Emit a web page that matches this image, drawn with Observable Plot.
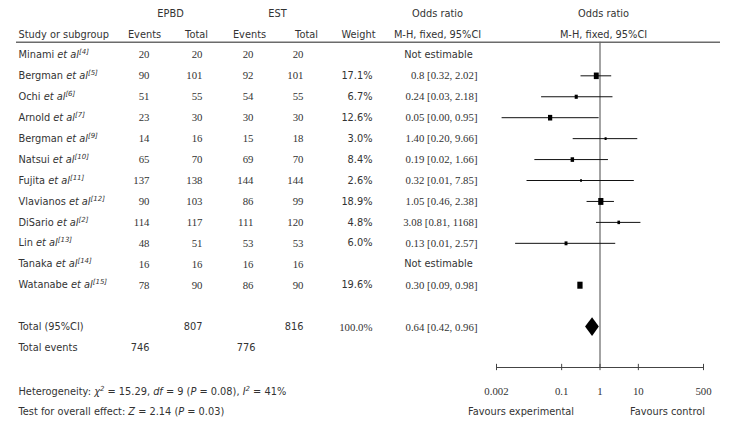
<!DOCTYPE html>
<html>
<head>
<meta charset="utf-8">
<script src="https://cdn.jsdelivr.net/npm/d3@7"></script>
<script src="https://cdn.jsdelivr.net/npm/@observablehq/plot@0.6"></script>
<style>
  html, body { margin: 0; padding: 0; background: #fff; }
  #chart svg { display: block; }
</style>
</head>
<body>
<div id="chart"></div>
<script>
// ---------------- data ----------------
const studyNames = ["Minami","Bergman","Ochi","Arnold","Bergman","Natsui","Fujita","Vlavianos","DiSario","Lin","Tanaka","Watanabe"];
const studyRefs  = [4,5,6,7,9,10,11,12,2,13,14,15];
const epbdEvents = [20,90,51,23,14,65,137,90,114,48,16,78];
const epbdTotal  = [20,101,55,30,16,70,138,103,117,51,16,90];
const estEvents  = [20,92,54,30,15,69,144,86,111,53,16,86];
const estTotal   = [20,101,55,30,18,70,144,99,120,53,16,90];
const weights    = [null,17.1,6.7,12.6,3.0,8.4,2.6,18.9,4.8,6.0,null,19.6];
const weightText = ["","17.1%","6.7%","12.6%","3.0%","8.4%","2.6%","18.9%","4.8%","6.0%","","19.6%"];
const oddsRatio  = [null,0.8,0.24,0.05,1.40,0.19,0.32,1.05,3.08,0.13,null,0.30];
// whisker ends as drawn in the picture (Watanabe has no visible whisker)
const whiskerLow  = [null,0.32,0.03,0.0028,0.20,0.02,0.0125,0.46,0.81,0.0063,null,null];
const whiskerHigh = [null,2.02,2.18,0.95,9.66,1.66,7.85,2.38,11.68,2.57,null,null];
const orText = ["Not estimable","0.8 [0.32, 2.02]","0.24 [0.03, 2.18]","0.05 [0.00, 0.95]","1.40 [0.20, 9.66]","0.19 [0.02, 1.66]","0.32 [0.01, 7.85]","1.05 [0.46, 2.38]","3.08 [0.81, 1168]","0.13 [0.01, 2.57]","Not estimable","0.30 [0.09, 0.98]"];

const totalLabel = "Total (95%CI)";
const totalN = [807, 816];
const totalWeight = "100.0%";
const pooled = {or: 0.64, lo: 0.42, hi: 0.96};
const pooledText = "0.64 [0.42, 0.96]";
const eventsLabel = "Total events";
const totalEvents = [746, 776];

const groupHeaders = ["EPBD","EST","Odds ratio","Odds ratio"];
const columnHeaders = ["Study or subgroup","Events","Total","Events","Total","Weight","M-H, fixed, 95%CI","M-H, fixed, 95%CI"];
const heterogeneity = "Heterogeneity: *χ*^{2} = 15.29, *df* = 9 (*P* = 0.08), *I*^{2} = 41%";
const overallTest = "Test for overall effect: *Z* = 2.14 (*P* = 0.03)";
const tickValues = [0.002, 0.1, 1, 10, 500];
const tickLabels = ["0.002","0.1","1","10","500"];
const favours = ["Favours experimental","Favours control"];

// ---------------- layout ----------------
const W = 734, H = 423, ML = 16, MR = 14;
const AXIS_ROW = 14.93, RULE_ROW = -0.6, TOTAL_ROW = 13, EVENTS_ROW = 14;
const HET_ROW = 16.1, TEST_ROW = 17.06, H1_ROW = -1.95, H2_ROW = -0.96;
const SANS = "DejaVu Sans", SERIF = "Liberation Serif";
const INK = "#333";

const rows = studyNames.map((name, i) => ({
  row: i,
  label: `${name} *et al*^{[${studyRefs[i]}]}`,
  e1: epbdEvents[i], n1: epbdTotal[i], e2: estEvents[i], n2: estTotal[i],
  w: weights[i], wt: weightText[i], or: oddsRatio[i],
  lo: whiskerLow[i], hi: whiskerHigh[i], ort: orText[i]
}));
const estimable = rows.filter(d => d.or != null);
const notEstimable = rows.filter(d => d.or == null);
const whiskers = rows.filter(d => d.lo != null);

// text column placed at a pixel column
const col = (data, px, o) => Plot.text(data, {frameAnchor: "left", dx: px - ML, fill: INK, fontFamily: SANS, fontSize: 9.8, ...o});

const diamond = [
  {x: pooled.lo, y1: TOTAL_ROW, y2: TOTAL_ROW},
  {x: pooled.or, y1: TOTAL_ROW - 0.45, y2: TOTAL_ROW + 0.45},
  {x: pooled.hi, y1: TOTAL_ROW, y2: TOTAL_ROW}
];

const boxSymbol = {draw(ctx, size) { const w = Math.sqrt(size * 0.75), h = Math.sqrt(size / 0.75); ctx.rect(-w / 2, -h / 2, w, h); }};

const chart = Plot.plot({
  width: W, height: H,
  marginLeft: ML, marginRight: MR, marginTop: 0, marginBottom: H - 367,
  x: {type: "log", domain: [0.002, 500], range: [496, 703], axis: null},
  y: {type: "linear", domain: [-2, AXIS_ROW], range: [12.5, 367], axis: null},
  r: {type: "sqrt", domain: [0, 20], range: [0, 3.47]},
  style: {background: "#fff", color: INK},
  marks: [
    // header underline
    Plot.ruleY([RULE_ROW], {stroke: "#6b6b6b", strokeWidth: 1.5}),
    // group headers
    col([groupHeaders[0]], 170, {y: H1_ROW, text: d => d, textAnchor: "middle"}),
    col([groupHeaders[1]], 277, {y: H1_ROW, text: d => d, textAnchor: "middle"}),
    col([groupHeaders[2]], 437, {y: H1_ROW, text: d => d, textAnchor: "middle"}),
    col([groupHeaders[3]], 603, {y: H1_ROW, text: d => d, textAnchor: "middle"}),
    // column headers
    col([columnHeaders[0]], 18, {y: H2_ROW, text: d => d, textAnchor: "start"}),
    col([columnHeaders[1]], 144, {y: H2_ROW, text: d => d, textAnchor: "middle"}),
    col([columnHeaders[2]], 196, {y: H2_ROW, text: d => d, textAnchor: "middle"}),
    col([columnHeaders[3]], 249, {y: H2_ROW, text: d => d, textAnchor: "middle"}),
    col([columnHeaders[4]], 306, {y: H2_ROW, text: d => d, textAnchor: "middle"}),
    col([columnHeaders[5]], 358, {y: H2_ROW, text: d => d, textAnchor: "middle"}),
    col([columnHeaders[6]], 437, {y: H2_ROW, text: d => d, textAnchor: "middle"}),
    col([columnHeaders[7]], 603, {y: H2_ROW, text: d => d, textAnchor: "middle"}),
    // study rows
    col(rows, 18, {y: "row", text: "label", textAnchor: "start"}),
    col(rows, 149, {y: "row", text: "e1", textAnchor: "end", fontFamily: SERIF, fontSize: 10.8}),
    col(rows, 202, {y: "row", text: "n1", textAnchor: "end", fontFamily: SERIF, fontSize: 10.8}),
    col(rows, 253, {y: "row", text: "e2", textAnchor: "end", fontFamily: SERIF, fontSize: 10.8}),
    col(rows, 303, {y: "row", text: "n2", textAnchor: "end", fontFamily: SERIF, fontSize: 10.8}),
    col(rows, 372, {y: "row", text: "wt", textAnchor: "end"}),
    col(estimable, 477, {y: "row", text: "ort", textAnchor: "end", fontFamily: SERIF, fontSize: 10.8}),
    col(notEstimable, 438, {y: "row", text: "ort", textAnchor: "middle"}),
    // totals
    col([totalLabel], 18, {y: TOTAL_ROW, text: d => d, textAnchor: "start"}),
    col([totalN[0]], 202, {y: TOTAL_ROW, text: d => d, textAnchor: "end"}),
    col([totalN[1]], 303, {y: TOTAL_ROW, text: d => d, textAnchor: "end"}),
    col([totalWeight], 372, {y: TOTAL_ROW, text: d => d, textAnchor: "end", fontFamily: SERIF, fontSize: 10.8}),
    col([pooledText], 477, {y: TOTAL_ROW, text: d => d, textAnchor: "end", fontFamily: SERIF, fontSize: 10.8}),
    col([eventsLabel], 18, {y: EVENTS_ROW, text: d => d, textAnchor: "start"}),
    col([totalEvents[0]], 149, {y: EVENTS_ROW, text: d => d, textAnchor: "end"}),
    col([totalEvents[1]], 255, {y: EVENTS_ROW, text: d => d, textAnchor: "end"}),
    // footnotes
    col([heterogeneity], 18, {y: HET_ROW, text: d => d, textAnchor: "start"}),
    col([overallTest], 18, {y: TEST_ROW, text: d => d, textAnchor: "start"}),
    // forest: line of no effect
    Plot.ruleX([1], {y1: RULE_ROW, y2: AXIS_ROW, stroke: "#666", strokeWidth: 1.2}),
    // axis line, ticks, labels
    Plot.ruleY([AXIS_ROW], {x1: tickValues[0], x2: tickValues[tickValues.length - 1], stroke: "#444", strokeWidth: 1.2}),
    Plot.ruleX(tickValues, {x: d => d, y1: AXIS_ROW - 0.15, y2: AXIS_ROW + 0.15, stroke: "#444"}),
    Plot.text(tickValues, {x: d => d, y: HET_ROW, text: (d, i) => tickLabels[i], fontFamily: SERIF, fontSize: 10.8, fill: INK}),
    Plot.text([favours[0]], {x: 1, y: TEST_ROW, dx: -26, text: d => d, textAnchor: "end", fontFamily: SANS, fontSize: 9.8, fill: INK}),
    Plot.text([favours[1]], {x: 1, y: TEST_ROW, dx: 30, text: d => d, textAnchor: "start", fontFamily: SANS, fontSize: 9.8, fill: INK}),
    // whiskers and weighted boxes
    Plot.ruleY(whiskers, {y: "row", x1: "lo", x2: "hi", stroke: "#111", strokeWidth: 1}),
    Plot.dot(estimable, {x: "or", y: "row", r: "w", symbol: boxSymbol, fill: "#000", stroke: null}),
    // pooled diamond
    Plot.areaY(diamond, {x: "x", y1: "y1", y2: "y2", fill: "#000"})
  ]
});

// rich text: *italic* and ^{superscript}
const SVGNS = "http://www.w3.org/2000/svg";
d3.select(chart).selectAll("text").each(function () {
  const s = this.textContent;
  if (!/\*|\^\{/.test(s)) return;
  const parts = s.split(/(\*[^*]+\*|\^\{[^}]+\})/).filter(p => p.length);
  this.textContent = "";
  let raised = false;
  for (const p of parts) {
    const t = document.createElementNS(SVGNS, "tspan");
    if (p.startsWith("^{")) {
      t.textContent = p.slice(2, -1);
      t.setAttribute("font-size", "7");
      t.setAttribute("font-style", "italic");
      t.setAttribute("dy", "-4");
      raised = true;
    } else {
      if (p.startsWith("*")) { t.textContent = p.slice(1, -1); t.setAttribute("font-style", "italic"); }
      else t.textContent = p;
      if (raised) { t.setAttribute("dy", "4"); raised = false; }
    }
    this.appendChild(t);
  }
});

document.getElementById("chart").appendChild(chart);
</script>
</body>
</html>
